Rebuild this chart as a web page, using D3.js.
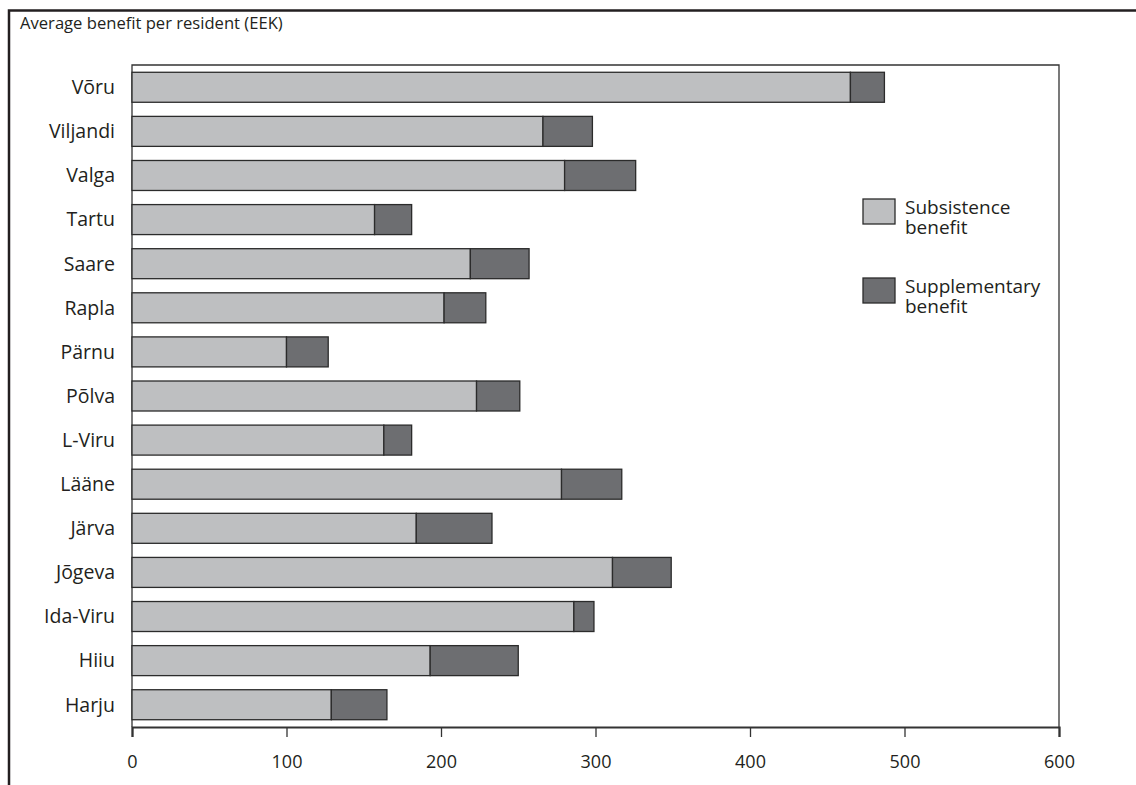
<!DOCTYPE html>
<html><head><meta charset="utf-8">
<script src="https://cdn.jsdelivr.net/npm/d3@7"></script>
<style>body{margin:0;background:#fff}svg{display:block}text{font-family:"Open Sans","Noto Sans",sans-serif;fill:#231f20}</style>
</head><body><svg id="c" width="1136" height="785"></svg>
<script>
const categories = ["Võru","Viljandi","Valga","Tartu","Saare","Rapla","Pärnu","Põlva","L-Viru","Lääne","Järva","Jõgeva","Ida-Viru","Hiiu","Harju"];
const subsistence = [465, 266, 280, 157, 219, 202, 100, 223, 163, 278, 184, 311, 286, 193, 129];
const supplementary = [22, 32, 46, 24, 38, 27, 27, 28, 18, 39, 49, 38, 13, 57, 36];
const xTicks = [0,100,200,300,400,500,600];
const seriesNames = ["Subsistence benefit","Supplementary benefit"];
const colors = ["#bebfc1","#6d6e71"];

const svg = d3.select("#c");
const L=132,R=1059,T=65,B=727;
const x = d3.scaleLinear().domain([0,600]).range([L,R]);
const y = d3.scaleBand().domain(categories).range([T,B]).paddingInner(0.32).paddingOuter(0.165);

// outer frame
svg.append("path").attr("d","M9,785V10.5H1136").attr("fill","none").attr("stroke","#231f20").attr("stroke-width",2.5);
svg.append("text").attr("x",20).attr("y",28.5).attr("font-size",16.6).text("Average benefit per resident (EEK)");

// plot frame
svg.append("path").attr("d",`M${L},${B}V${T}H${R}V${B}`).attr("fill","none").attr("stroke","#333").attr("stroke-width",1.3);

const data = categories.map((c,i)=>({c, a:subsistence[i], b:supplementary[i]}));
const g = svg.append("g");
g.selectAll("rect.a").data(data).join("rect").attr("class","a")
 .attr("x",x(0)).attr("y",d=>y(d.c)).attr("width",d=>x(d.a)-x(0)).attr("height",y.bandwidth())
 .attr("fill",colors[0]).attr("stroke","#2b2b2b").attr("stroke-width",1.3);
g.selectAll("rect.b").data(data).join("rect").attr("class","b")
 .attr("x",d=>x(d.a)).attr("y",d=>y(d.c)).attr("width",d=>x(d.a+d.b)-x(d.a)).attr("height",y.bandwidth())
 .attr("fill",colors[1]).attr("stroke","#2b2b2b").attr("stroke-width",1.3);

// category labels
svg.selectAll("text.cat").data(categories).join("text").attr("class","cat")
 .attr("x",115).attr("y",d=>y(d)+y.bandwidth()/2).attr("dy","0.35em").attr("text-anchor","end")
 .attr("font-size",19.5).text(d=>d);

// x axis
const ax = svg.append("g").attr("transform",`translate(0,${B})`)
 .call(d3.axisBottom(x).tickValues(xTicks).tickSize(10).tickPadding(18).tickFormat(d3.format("d")));
ax.select(".domain").attr("stroke","#333").attr("stroke-width",2.2);
ax.selectAll(".tick line").attr("stroke","#333").attr("stroke-width",1.3);
ax.selectAll(".tick text").attr("font-size",18).attr("font-family","'Open Sans','Noto Sans',sans-serif").attr("fill","#231f20");

// legend
const lg = svg.append("g");
const legY = [199, 278];
seriesNames.forEach((n,i)=>{
  lg.append("rect").attr("x",863).attr("y",legY[i]).attr("width",32).attr("height",25)
    .attr("fill",colors[i]).attr("stroke","#2b2b2b").attr("stroke-width",1.3);
  const parts = n.split(" ");
  const t = lg.append("text").attr("x",905).attr("y",legY[i]+15).attr("font-size",19);
  t.append("tspan").attr("x",905).text(parts[0]);
  t.append("tspan").attr("x",905).attr("dy",20).text(parts[1]);
});
</script></body></html>
